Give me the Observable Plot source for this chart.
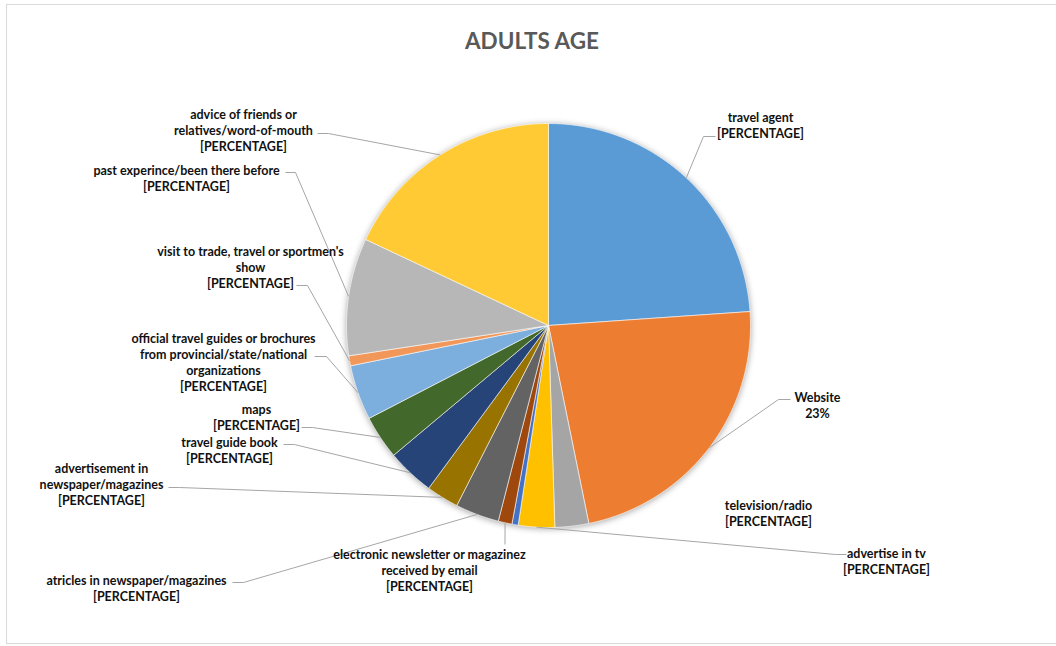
<!DOCTYPE html>
<html><head><meta charset="utf-8">
<script src="https://cdn.jsdelivr.net/npm/d3@7"></script>
<script src="https://cdn.jsdelivr.net/npm/@observablehq/plot@0.6"></script>
<style>
body{margin:0;background:#fff;}
#wrap{position:relative;width:1056px;height:646px;overflow:hidden;}
#chart{position:absolute;left:0;top:0;}
#frame{position:absolute;left:6px;top:4px;width:1070px;height:640px;border:1px solid #d9d9d9;box-sizing:border-box;}
#title{position:absolute;left:0;width:1064px;top:27px;text-align:center;font-family:Lato,sans-serif;font-weight:bold;font-size:22.5px;color:#595959;}
</style></head><body>
<div id="wrap"><div id="chart"></div><div id="frame"></div><div id="title">ADULTS AGE</div></div>
<script>
// ---- data ----
const categories = [
  "travel agent",
  "Website",
  "television/radio",
  "advertise in tv",
  "(unlabeled)",
  "electronic newsletter or magazinez received by email",
  "atricles in newspaper/magazines",
  "advertisement in newspaper/magazines",
  "travel guide book",
  "maps",
  "official travel guides or brochures from provincial/state/national organizations",
  "visit to trade, travel or sportmen's show",
  "past experince/been there before",
  "advice of friends or relatives/word-of-mouth"
];
const values = [23.9, 22.9, 2.7, 2.9, 0.5, 1.1, 3.5, 2.6, 3.8, 3.5, 4.4, 0.8, 9.4, 18.0];
const labelLines = [
  "travel agent",
  "Website",
  "television/radio",
  "advertise in tv",
  null,
  "electronic newsletter or magazinez\nreceived by email",
  "atricles in newspaper/magazines",
  "advertisement in\nnewspaper/magazines",
  "travel guide book",
  "maps",
  "official travel guides or brochures\nfrom provincial/state/national\norganizations",
  "visit to trade, travel or sportmen's\nshow",
  "past experince/been there before",
  "advice of friends or\nrelatives/word-of-mouth"
];
const showValue = [false, true, false, false, false, false, false, false, false, false, false, false, false, false];
const colors = ["#5B9BD5","#ED7D31","#A5A5A5","#FFC000","#4472C4","#9E480E","#636363","#997300","#264478","#43682B","#7CAFDD","#F1975A","#B7B7B7","#FFCA33"];

// ---- layout (pixels) ----
const cx = 548, cy = 325, r = 202;
const layout = {
  "travel agent": {x: 760, y: 116, ax: 715, ay: 136, ex: 703},
  "Website": {x: 817, y: 396, ax: 790, ay: 399, ex: 778},
  "television/radio": {x: 768, y: 504},
  "advertise in tv": {x: 886, y: 552, ax: 846, ay: 554, ex: 835},
  "electronic newsletter or magazinez received by email": {x: 429, y: 553, ax: 504.5, ay: 544, ex: 504.5},
  "atricles in newspaper/magazines": {x: 136, y: 579, ax: 232, ay: 582, ex: 243},
  "advertisement in newspaper/magazines": {x: 101, y: 467, ax: 168, ay: 487, ex: 179},
  "travel guide book": {x: 229, y: 441, ax: 283, ay: 444, ex: 294},
  "maps": {x: 256, y: 408, ax: 301, ay: 427, ex: 312},
  "official travel guides or brochures from provincial/state/national organizations": {x: 223, y: 337, ax: 314, ay: 356, ex: 326},
  "visit to trade, travel or sportmen's show": {x: 250, y: 250, ax: 296, ay: 285, ex: 307},
  "past experince/been there before": {x: 186, y: 169, ax: 285, ay: 172, ex: 295},
  "advice of friends or relatives/word-of-mouth": {x: 243, y: 113, ax: 317, ay: 133, ex: 328}
};
const LH = 16, FS = 12.5;

const data = categories.map((name, i) => ({name, value: values[i], label: labelLines[i], showValue: showValue[i]}));
const total = d3.sum(values);
const arcs = d3.pie().sort(null).value(d => d.value)(data);

const pts = [];
for (const a of arcs) {
  const name = a.data.name;
  pts.push({name, px: cx, py: cy});
  const n = Math.max(2, Math.ceil((a.endAngle - a.startAngle) / (Math.PI / 360)));
  for (let i = 0; i <= n; i++) {
    const t = a.startAngle + (a.endAngle - a.startAngle) * i / n;
    pts.push({name, px: cx + r * Math.sin(t), py: cy - r * Math.cos(t)});
  }
  pts.push({name, px: cx, py: cy});
}

const labels = [], links = [];
for (const a of arcs) {
  const d = a.data, L = layout[d.name];
  if (!L || d.label == null) continue;
  const text = d.label + "\n" + (d.showValue ? d3.format(".0%")(d.value / total) : "[PERCENTAGE]");
  const nLines = text.split("\n").length;
  labels.push({x: L.x, y: L.y + (nLines - 1) * LH / 2, text});
  if (L.ax != null) {
    const m = (a.startAngle + a.endAngle) / 2;
    const px = cx + r * Math.sin(m), py = cy - r * Math.cos(m);
    links.push({x1: L.ax, y1: L.ay, x2: L.ex, y2: L.ay});
    links.push({x1: L.ex, y1: L.ay, x2: px, y2: py});
  }
}

const chart = Plot.plot({
  width: 1056, height: 646, margin: 0,
  style: {background: "transparent"},
  x: {domain: [0, 1056], range: [0, 1056], axis: null},
  y: {domain: [0, 646], range: [0, 646], axis: null},
  color: {domain: categories, range: colors},
  marks: [
    Plot.line(pts, {x: "px", y: "py", z: "name", fill: "name", stroke: "white", strokeWidth: 0.6, strokeLinejoin: "round"}),
    Plot.link(links, {x1: "x1", y1: "y1", x2: "x2", y2: "y2", stroke: "#A6A6A6", strokeWidth: 1}),
    Plot.text(labels, {x: "x", y: "y", text: "text", lineAnchor: "middle", textAnchor: "middle",
      fontSize: FS, fontWeight: "bold", fontFamily: "Lato", fill: "#111", lineHeight: LH / FS})
  ]
});
const g = chart.querySelector('g[aria-label="line"]');
if (g) g.style.filter = "drop-shadow(0px 1px 3px rgba(0,0,0,0.35))";
document.getElementById("chart").appendChild(chart);
</script>
</body></html>
